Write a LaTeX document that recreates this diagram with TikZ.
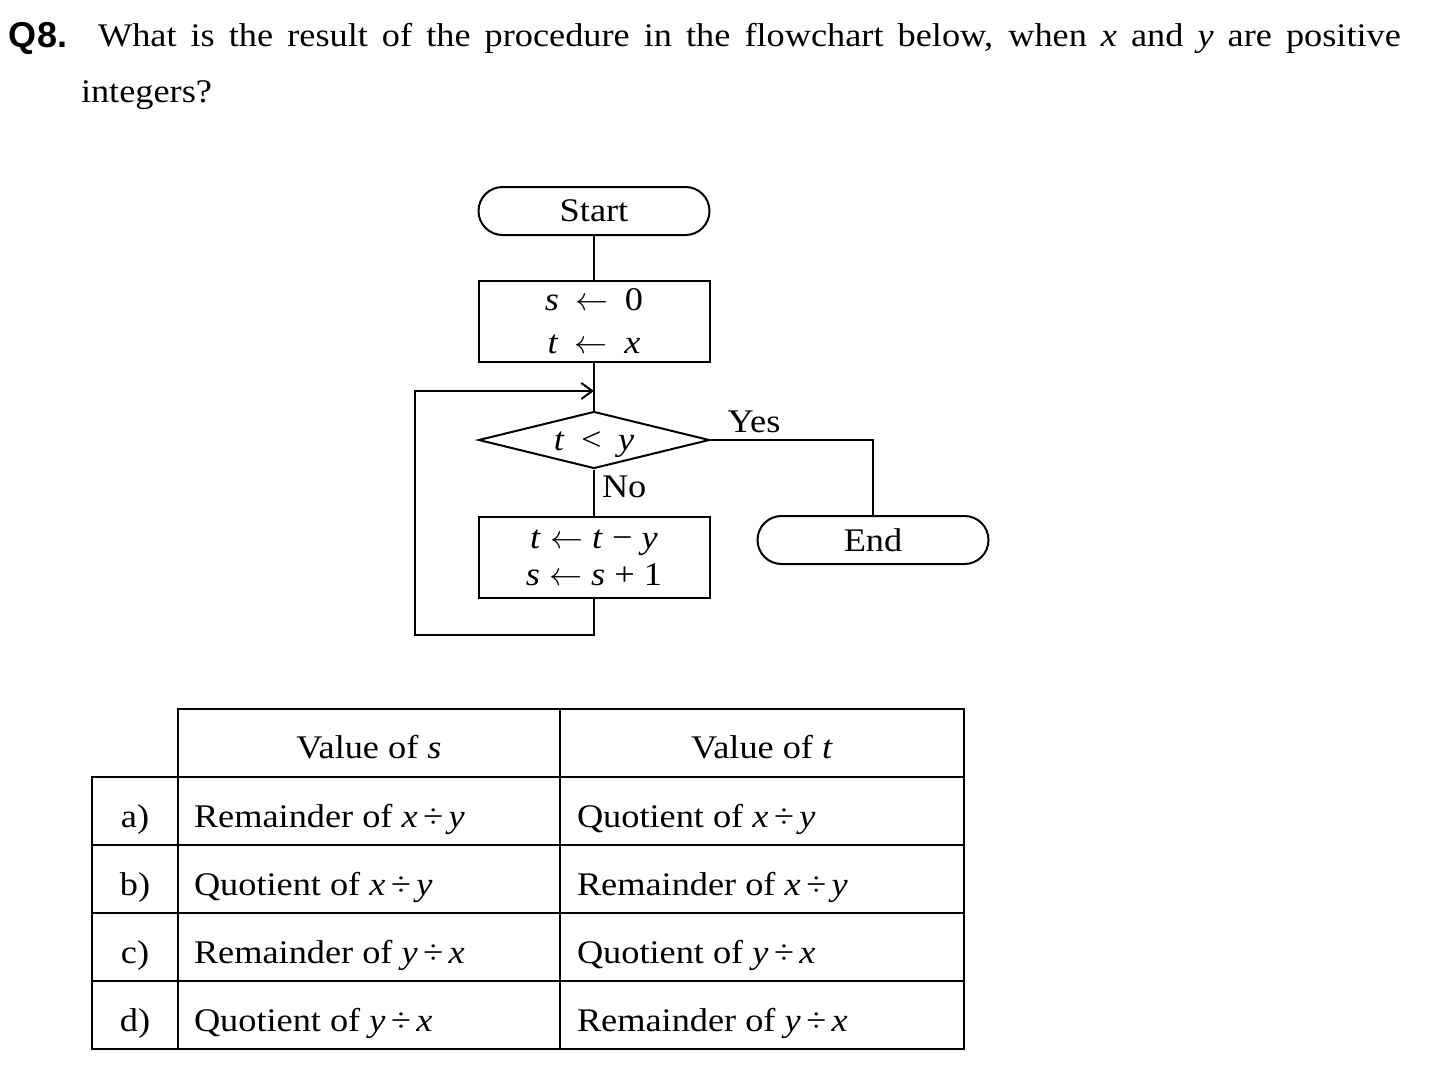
\documentclass[tikz,border=0pt]{standalone}
\usepackage{fontspec}
\setmainfont[FakeStretch=1.1]{Liberation Serif}
\newfontfamily\headfont{Liberation Sans}
\DeclareFontShape{OMS}{cmsy}{m}{n}{<->cmsy10}{}
\usetikzlibrary{shapes.geometric,arrows.meta}
\newcommand{\vx}[1]{\textit{#1}}
\newcommand{\getsto}{\ensuremath{\leftarrow}}
\begin{document}
\begin{tikzpicture}[x=1pt,y=-1pt,line width=2pt,
  every node/.style={font=\fontsize{33}{40}\selectfont},
  terminal/.style={draw,rounded corners=24pt,minimum width=231pt,minimum height=48pt,inner sep=0pt},
  process/.style={draw,minimum width=231pt,minimum height=81pt,inner sep=0pt,align=center},
  decision/.style={draw,diamond,aspect=4.1,minimum width=231pt,minimum height=57pt,inner sep=0pt},
  cell/.style={anchor=base west,inner sep=0pt},
  >={Straight Barb[length=11pt,width=16pt]}]
\useasboundingbox (0,0) rectangle (1450,1073);
\node[anchor=base west,inner sep=0pt,font=\fontsize{36}{40}\selectfont] (qnum) at (8,48) {\headfont\bfseries Q8.};
\node[anchor=base west,inner sep=0pt] (qline) at (97,47) {\makebox[1303pt][s]{What is the result of the procedure in the flowchart below, when \vx{x} and \vx{y} are positive}};
\node[anchor=base west,inner sep=0pt] (qrest) at (80,102) {integers?};
\node[terminal] (start) at (594,211) {Start};
\node[process,font=\fontsize{33}{43}\selectfont] (init) at (594,321.5) {\vx{s}\enspace\getsto\enspace0\\\vx{t}\enspace\getsto\enspace\vx{x}};
\node[decision] (test) at (594,440) {\raisebox{-10pt}[0pt][0pt]{\vx{t}\enspace<\enspace\vx{y}}};
\node[process,font=\fontsize{33}{37}\selectfont] (step) at (594,557.5) {\vx{t} \getsto{} \vx{t} − \vx{y}\\\vx{s} \getsto{} \vx{s} + 1};
\node[terminal] (stop) at (873,540) {End};
\node[anchor=base,inner sep=0pt] (yes) at (754,432) {Yes};
\node[anchor=base west,inner sep=0pt] (no) at (601,497) {No};
\coordinate (merge) at (594,391);
\coordinate (loopbot) at (594,635);
\coordinate (loopleft) at (415,635);
\coordinate (looptop) at (415,391);
\draw (start) -- (init);
\draw (init) -- (test);
\draw (test) -- (step);
\draw (test.east) -| (stop.north);
\draw[->] (step.south) -- (loopbot) -- (loopleft) -- (looptop) -- (merge);
\draw[line width=2.5pt] (178,709) rectangle (964,1049);
\draw[line width=2.5pt] (92,777) rectangle (178,1049);
\draw[line width=2.5pt] (560,709) -- (560,1049);
\foreach \y in {777,845,913,981}
  \draw[line width=2.5pt] (92,\y) -- (964,\y);
\node[anchor=base,inner sep=0pt] (hs) at (369,758) {Value of \vx{s}};
\node[anchor=base,inner sep=0pt] (ht) at (762,758) {Value of \vx{t}};
\node[anchor=base,inner sep=0pt] (ra) at (135,827) {a)};
\node[anchor=base,inner sep=0pt] (rb) at (135,895) {b)};
\node[anchor=base,inner sep=0pt] (rc) at (135,963) {c)};
\node[anchor=base,inner sep=0pt] (rd) at (135,1031) {d)};
\node[cell] (as) at (193,827) {Remainder of \vx{x}\,÷\,\vx{y}};
\node[cell] (at) at (576,827) {Quotient of \vx{x}\,÷\,\vx{y}};
\node[cell] (bs) at (193,895) {Quotient of \vx{x}\,÷\,\vx{y}};
\node[cell] (bt) at (576,895) {Remainder of \vx{x}\,÷\,\vx{y}};
\node[cell] (cs) at (193,963) {Remainder of \vx{y}\,÷\,\vx{x}};
\node[cell] (ct) at (576,963) {Quotient of \vx{y}\,÷\,\vx{x}};
\node[cell] (ds) at (193,1031) {Quotient of \vx{y}\,÷\,\vx{x}};
\node[cell] (dt) at (576,1031) {Remainder of \vx{y}\,÷\,\vx{x}};
\end{tikzpicture}
\end{document}
